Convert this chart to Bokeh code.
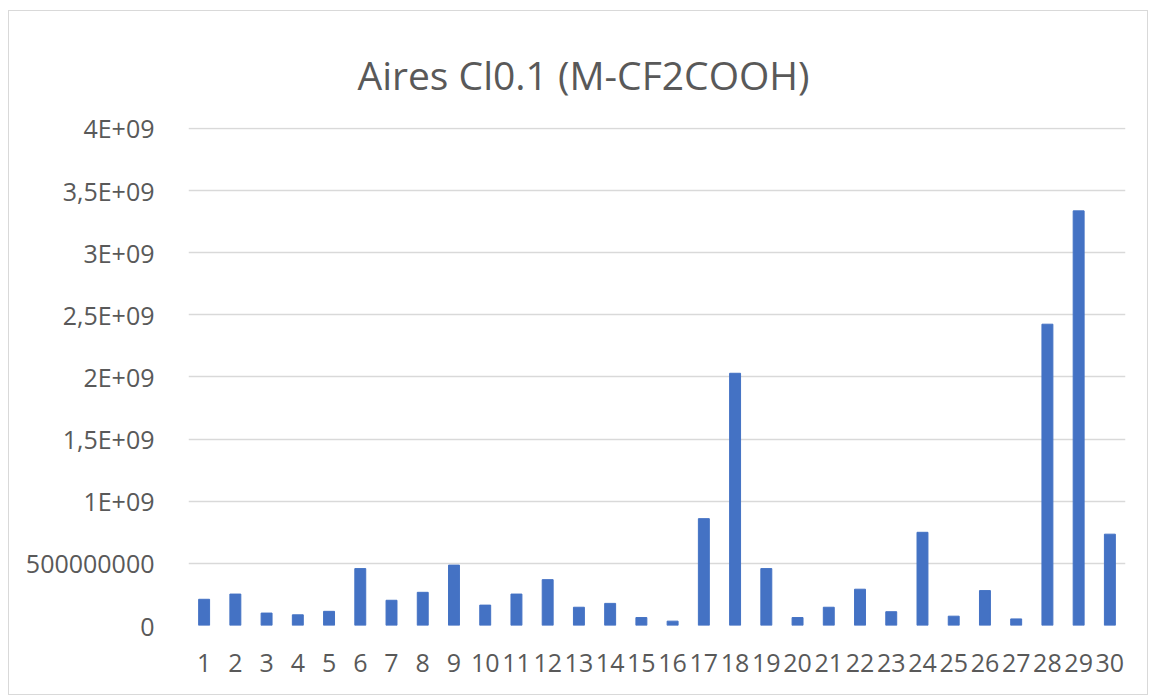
from bokeh.plotting import figure
from bokeh.models import Range1d, FactorRange, FixedTicker, ColumnDataSource
from bokeh.embed import file_html
from bokeh.resources import INLINE

# ---- data ----
title_text = "Aires Cl0.1 (M-CF2COOH)"
categories = [str(i) for i in range(1, 31)]
values = [211e6, 253e6, 100e6, 86e6, 114e6, 458e6, 203e6, 267e6, 486e6, 164e6,
          253e6, 369e6, 147e6, 178e6, 64e6, 35e6, 860e6, 2030e6, 458e6, 64e6,
          147e6, 292e6, 111e6, 750e6, 75e6, 281e6, 53e6, 2425e6, 3337e6, 735e6]
y_ticks = [0, 500000000, 1e9, 1.5e9, 2e9, 2.5e9, 3e9, 3.5e9, 4e9]
y_tick_labels = ["0", "500000000", "1E+09", "1,5E+09", "2E+09", "2,5E+09",
                 "3E+09", "3,5E+09", "4E+09"]

FONT = "Open Sans"
TEXT_COLOR = "#595959"
BAR_COLOR = "#4472C4"
GRID_COLOR = "#d9d9d9"

src = ColumnDataSource(data=dict(cat=categories, val=values))

p = figure(width=1140, height=685, output_backend="svg", toolbar_location=None,
           x_range=FactorRange(factors=categories, range_padding=0),
           y_range=Range1d(0, 4.008e9),
           min_border_left=179, min_border_right=24,
           min_border_top=116, min_border_bottom=71)
p.styles = {"border": "1px solid #d9d9d9", "margin": "10px 0 0 8px"}

p.vbar(x="cat", top="val", width=0.35, source=src, color=BAR_COLOR)

p.outline_line_color = None
p.background_fill_color = "white"
p.border_fill_color = "white"

p.title.text = title_text
p.title.text_font = FONT
p.title.text_font_size = "39px"
p.title.text_font_style = "normal"
p.title.text_color = TEXT_COLOR
p.title.align = "left"
p.title.vertical_align = "top"
p.title.offset = 169
p.title.standoff = 50

p.xgrid.grid_line_color = None
p.ygrid.grid_line_color = GRID_COLOR
p.ygrid.grid_line_width = 1.3

p.yaxis.ticker = FixedTicker(ticks=y_ticks)
p.yaxis.major_label_overrides = {t: l for t, l in zip(y_ticks, y_tick_labels)}
for ax in (p.xaxis[0], p.yaxis[0]):
    ax.axis_line_color = None
    ax.major_tick_line_color = None
    ax.minor_tick_line_color = None
    ax.major_label_text_font = FONT
    ax.major_label_text_font_size = "25px"
    ax.major_label_text_color = TEXT_COLOR
p.yaxis.major_label_standoff = 28
p.xaxis.major_label_standoff = 22

open("out.html", "w").write(file_html(p, INLINE))
